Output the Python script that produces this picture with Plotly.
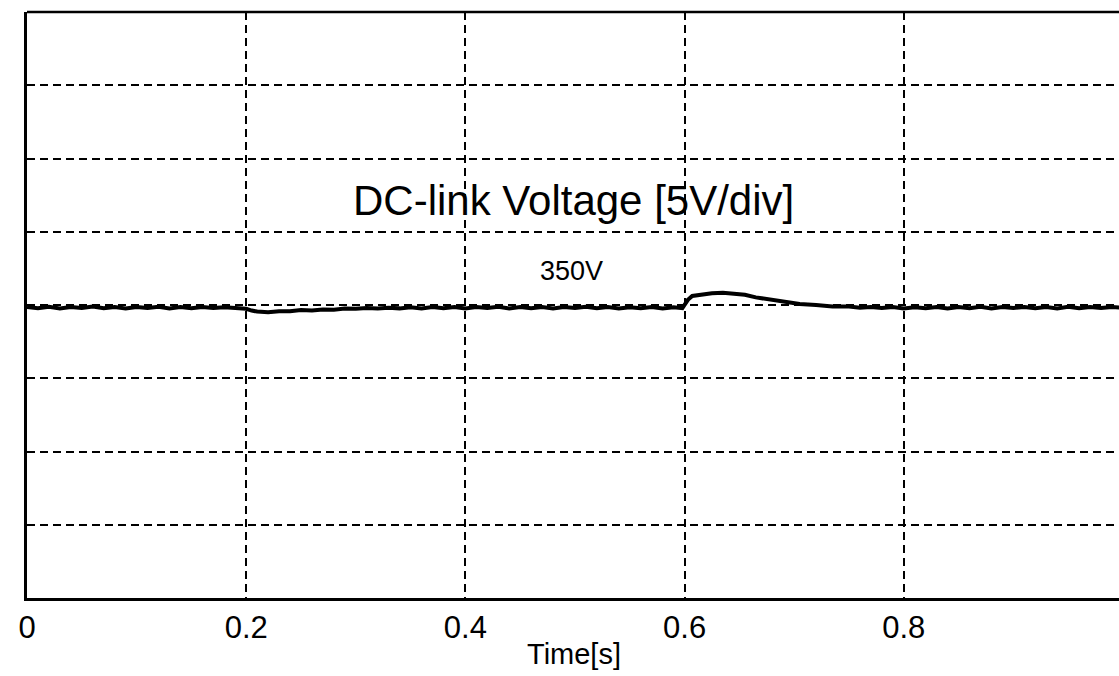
import plotly.graph_objects as go

# ---- data ----
time_s = [0.000, 0.010, 0.020, 0.030, 0.040, 0.050, 0.060, 0.070, 0.080, 0.090,
          0.100, 0.110, 0.120, 0.130, 0.140, 0.150, 0.160, 0.170, 0.180, 0.190,
          0.200, 0.205, 0.210, 0.220, 0.230, 0.240, 0.250, 0.260, 0.270, 0.280,
          0.290, 0.300, 0.310, 0.320, 0.330, 0.340, 0.350, 0.360, 0.370, 0.380,
          0.390, 0.400, 0.410, 0.420, 0.430, 0.440, 0.450, 0.460, 0.470, 0.480,
          0.490, 0.500, 0.510, 0.520, 0.530, 0.540, 0.550, 0.560, 0.570, 0.580,
          0.590, 0.598, 0.603, 0.607, 0.615, 0.625, 0.635, 0.645, 0.655, 0.665,
          0.675, 0.685, 0.695, 0.705, 0.720, 0.735, 0.750, 0.760, 0.770, 0.780,
          0.790, 0.800, 0.810, 0.820, 0.830, 0.840, 0.850, 0.860, 0.870, 0.880,
          0.890, 0.900, 0.910, 0.920, 0.930, 0.940, 0.950, 0.960, 0.970, 0.980,
          0.990, 1.000]
dc_voltage = [349.86, 349.78, 349.88, 349.77, 349.87, 349.79, 349.89, 349.78, 349.86, 349.76,
              349.87, 349.80, 349.88, 349.77, 349.86, 349.78, 349.87, 349.79, 349.85, 349.77,
              349.74, 349.62, 349.55, 349.50, 349.58, 349.57, 349.66, 349.62, 349.70, 349.68,
              349.76, 349.74, 349.79, 349.76, 349.82, 349.77, 349.85, 349.76, 349.86, 349.78,
              349.87, 349.77, 349.86, 349.79, 349.88, 349.77, 349.87, 349.78, 349.86, 349.77,
              349.86, 349.79, 349.88, 349.78, 349.86, 349.76, 349.85, 349.78, 349.87, 349.77,
              349.84, 349.78, 350.35, 350.62, 350.72, 350.80, 350.84, 350.76, 350.70, 350.52,
              350.42, 350.28, 350.18, 350.07, 350.00, 349.90, 349.89, 349.82, 349.86, 349.80,
              349.86, 349.77, 349.85, 349.78, 349.87, 349.77, 349.86, 349.78, 349.88, 349.77,
              349.86, 349.79, 349.87, 349.78, 349.86, 349.77, 349.88, 349.78, 349.86, 349.79,
              349.87, 349.80]
x_tick_vals = [0, 0.2, 0.4, 0.6, 0.8]
x_tick_text = ["0", "0.2", "0.4", "0.6", "0.8"]
title_text = "DC-link Voltage [5V/div]"
level_text = "350V"
x_label = "Time[s]"

fig = go.Figure()
fig.add_trace(go.Scatter(x=time_s, y=dc_voltage, mode="lines",
                         line=dict(color="black", width=4), showlegend=False,
                         hoverinfo="skip"))

fig.update_layout(
    width=1119, height=676,
    margin=dict(l=27, r=0, t=12, b=78),
    paper_bgcolor="white", plot_bgcolor="white",
    font=dict(family="Liberation Sans, Arial, sans-serif", color="black"),
    xaxis=dict(range=[0, 0.9964], tickvals=x_tick_vals, ticktext=x_tick_text,
               showgrid=True, gridcolor="black", gridwidth=1.8, griddash="8px,5px",
               showline=True, linecolor="black", linewidth=2.5, zeroline=False,
               ticks="",
               tickfont=dict(family="Liberation Sans Narrow, Liberation Sans, Arial", size=31)),
    yaxis=dict(range=[330, 370], dtick=5, tick0=330, showticklabels=False,
               showgrid=True, gridcolor="black", gridwidth=1.8, griddash="8px,5px",
               showline=True, linecolor="black", linewidth=2.5, zeroline=False),
)
# top border
fig.add_shape(type="line", xref="paper", yref="paper", x0=0, x1=1, y0=1, y1=1,
              line=dict(color="black", width=2.5))

fig.add_annotation(x=0.4986, y=357.1, xref="x", yref="y", text=title_text,
                   showarrow=False, font=dict(size=42, family="Liberation Sans, Arial"))
fig.add_annotation(x=0.4964, y=352.3, xref="x", yref="y", text=level_text,
                   showarrow=False, font=dict(size=27, family="Liberation Sans Narrow, Liberation Sans, Arial"))
fig.add_annotation(x=0.5005, y=-0.0956, xref="paper", yref="paper", text=x_label,
                   showarrow=False, yanchor="middle",
                   font=dict(size=29, family="Liberation Sans Narrow, Liberation Sans, Arial"))

fig.write_html("out.html")
